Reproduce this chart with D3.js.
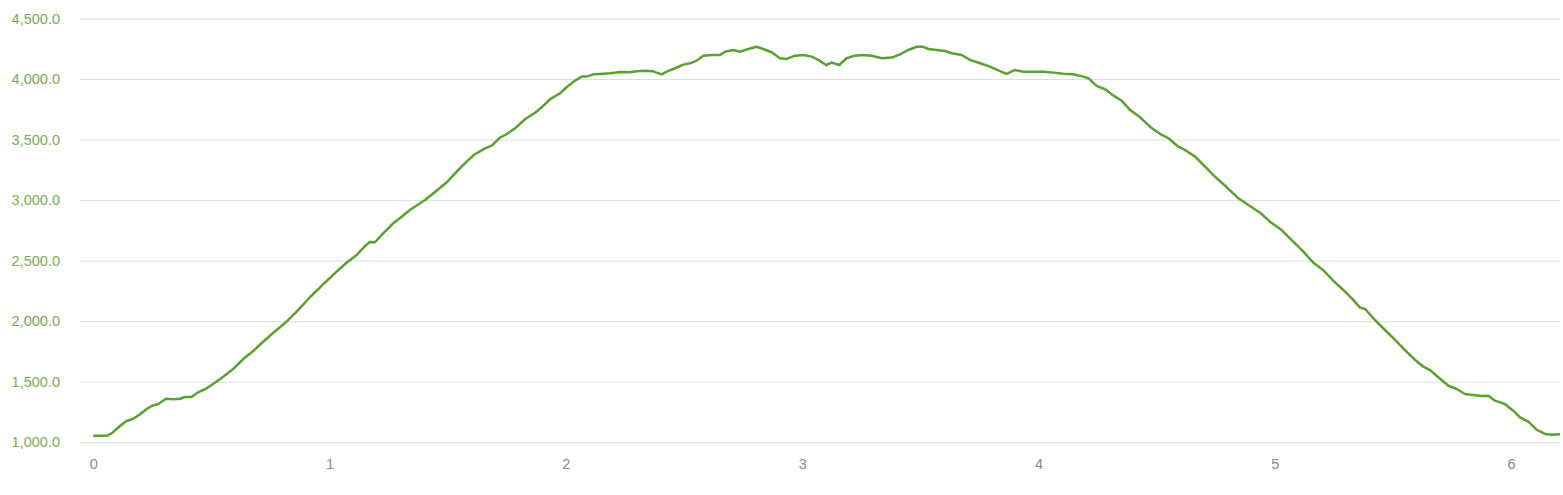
<!DOCTYPE html>
<html lang="en">
<head>
    <meta charset="utf-8">
    <title>Elevation profile</title>
    <script src="https://cdn.jsdelivr.net/npm/d3@7/dist/d3.min.js"></script>
    <style>
        body { margin: 0; background: #fff; }
        .axis text { font-family: "Liberation Sans", Arial, sans-serif; font-size: 14.5px; }
        .y-axis text { fill: #7cac4f; }
        .x-axis text { fill: #8a8a8a; }
        .y-axis line { stroke: #dcdcdc; }
        .axis path.domain { display: none; }
    </style>
</head>
<body>
<script>
    // distance (km) along the route
    var distance = [
        0.000, 0.057, 0.078, 0.113, 0.141, 0.167, 0.198, 0.226, 0.247, 0.275,
        0.308, 0.339, 0.367, 0.388, 0.416, 0.444, 0.480, 0.515, 0.550, 0.592,
        0.635, 0.677, 0.727, 0.776, 0.818, 0.861, 0.917, 0.973, 1.030, 1.072,
        1.115, 1.150, 1.171, 1.192, 1.227, 1.270, 1.305, 1.340, 1.404, 1.453,
        1.496, 1.538, 1.580, 1.615, 1.658, 1.686, 1.721, 1.749, 1.785, 1.827,
        1.870, 1.904, 1.933, 1.975, 2.003, 2.039, 2.067, 2.088, 2.116, 2.144,
        2.187, 2.229, 2.271, 2.300, 2.335, 2.370, 2.384, 2.405, 2.427, 2.462,
        2.497, 2.525, 2.554, 2.581, 2.617, 2.652, 2.673, 2.708, 2.737, 2.772,
        2.807, 2.835, 2.871, 2.906, 2.934, 2.970, 3.005, 3.040, 3.068, 3.101,
        3.125, 3.157, 3.188, 3.223, 3.259, 3.294, 3.337, 3.379, 3.414, 3.449,
        3.485, 3.510, 3.534, 3.569, 3.604, 3.633, 3.675, 3.710, 3.753, 3.795,
        3.837, 3.865, 3.901, 3.936, 3.978, 4.020, 4.063, 4.105, 4.147, 4.190,
        4.211, 4.246, 4.282, 4.317, 4.352, 4.388, 4.430, 4.480, 4.522, 4.550,
        4.592, 4.613, 4.663, 4.705, 4.747, 4.797, 4.846, 4.888, 4.938, 4.980,
        5.029, 5.078, 5.121, 5.163, 5.205, 5.248, 5.290, 5.326, 5.361, 5.382,
        5.424, 5.474, 5.509, 5.551, 5.594, 5.629, 5.657, 5.692, 5.735, 5.770,
        5.805, 5.840, 5.876, 5.904, 5.932, 5.974, 6.009, 6.038, 6.073, 6.109,
        6.144, 6.172, 6.207
    ];

    // elevation (m) at each distance
    var elevation = [
        1054, 1054, 1074, 1135, 1176, 1192, 1231, 1275, 1300, 1316,
        1360, 1355, 1360, 1374, 1374, 1413, 1446, 1492, 1542, 1605,
        1688, 1754, 1845, 1928, 1996, 2079, 2198, 2305, 2409, 2483,
        2547, 2621, 2654, 2652, 2726, 2809, 2863, 2918, 3001, 3078,
        3147, 3235, 3318, 3379, 3428, 3450, 3516, 3544, 3593, 3668,
        3722, 3778, 3833, 3882, 3932, 3987, 4020, 4020, 4039, 4042,
        4048, 4058, 4056, 4064, 4069, 4064, 4053, 4039, 4061, 4089,
        4119, 4130, 4152, 4193, 4199, 4199, 4226, 4240, 4226, 4248,
        4267, 4248, 4221, 4172, 4166, 4193, 4199, 4185, 4158, 4116,
        4136, 4116, 4172, 4193, 4199, 4193, 4172, 4177, 4204, 4240,
        4267, 4267, 4248, 4240, 4232, 4213, 4199, 4158, 4130, 4102,
        4066, 4042, 4075, 4061, 4061, 4061, 4053, 4044, 4039, 4020,
        4007, 3943, 3916, 3863, 3821, 3744, 3684, 3593, 3538, 3511,
        3441, 3422, 3359, 3276, 3194, 3106, 3015, 2960, 2896, 2822,
        2753, 2657, 2574, 2483, 2423, 2333, 2258, 2189, 2112, 2101,
        2010, 1913, 1845, 1762, 1680, 1624, 1597, 1537, 1467, 1440,
        1399, 1391, 1382, 1385, 1344, 1316, 1261, 1206, 1170, 1102,
        1069, 1063, 1066
    ];

    var yTicks = [1000, 1500, 2000, 2500, 3000, 3500, 4000, 4500];
    var xTicks = [0, 1, 2, 3, 4, 5, 6];

    //Width and height
    var w = 1563;
    var h = 495;
    var margin = {top: 18.5, right: 3, bottom: 52.7, left: 80};
    var innerW = w - margin.left - margin.right;
    var innerH = h - margin.top - margin.bottom;

    var points = distance.map(function(d, i) { return [d, elevation[i]]; });

    var x = d3.scaleLinear().domain([-0.056, 6.207]).range([0, innerW]);
    var y = d3.scaleLinear().domain([1000, 4500]).range([innerH, 0]);

    var svg = d3.select("body")
        .append("svg")
        .attr("width", w).attr("height", h);

    var g = svg.append("g")
        .attr("transform", "translate(" + margin.left + "," + margin.top + ")");

    // horizontal grid + value labels
    g.append("g")
        .attr("class", "axis y-axis")
        .call(d3.axisLeft(y)
            .tickValues(yTicks)
            .tickSize(-innerW)
            .tickPadding(20)
            .tickFormat(d3.format(",.1f")));

    g.append("g")
        .attr("class", "axis x-axis")
        .attr("transform", "translate(0," + innerH + ")")
        .call(d3.axisBottom(x)
            .tickValues(xTicks)
            .tickSize(0)
            .tickPadding(16)
            .tickFormat(d3.format("d")));

    var line = d3.line()
        .x(function(d) { return x(d[0]); })
        .y(function(d) { return y(d[1]); })
        .curve(d3.curveLinear);

    g.append("path")
        .datum(points)
        .attr("d", line)
        .style("fill", "none")
        .style("stroke", "#5ba12f")
        .style("stroke-width", 2.5)
        .style("stroke-linejoin", "round");
</script>
</body>
</html>
